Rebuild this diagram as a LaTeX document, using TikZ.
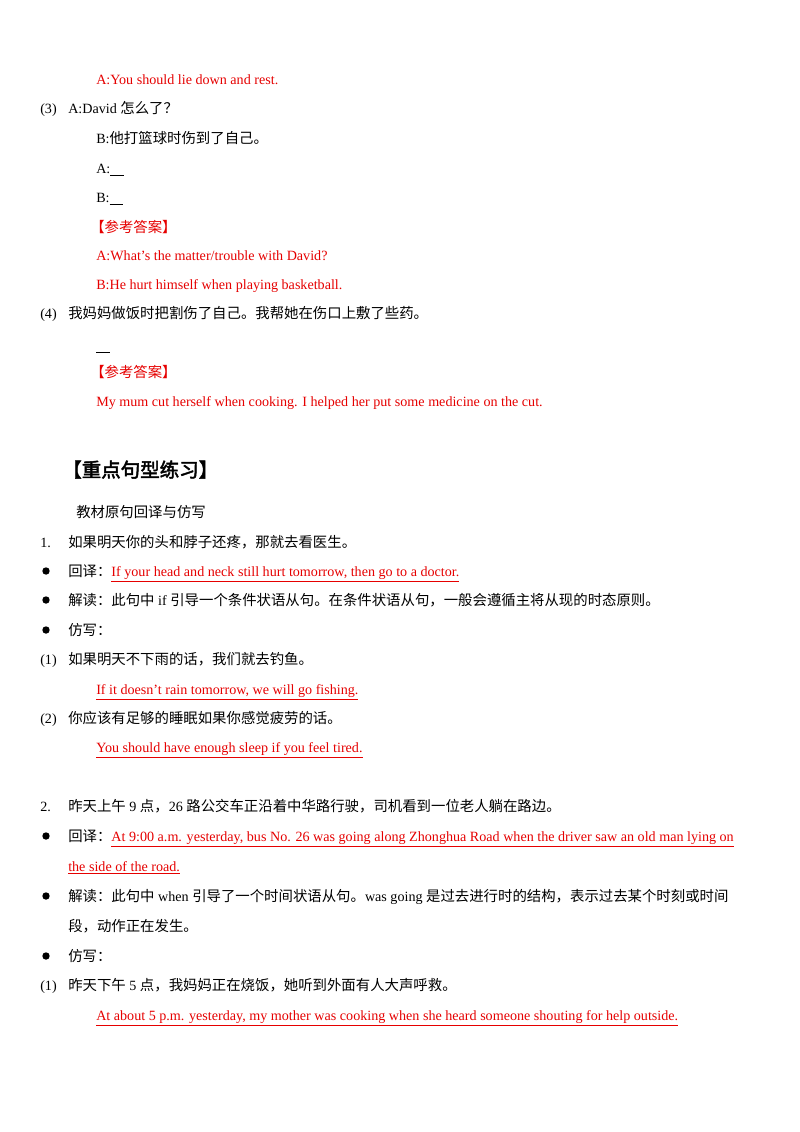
\documentclass[tikz,border=0pt]{standalone}
\usepackage{fontspec}
\setmainfont{Liberation Serif}
\newfontfamily\cjk[Scale=1.02]{Noto Sans CJK SC}
\newfontfamily\cjkb[FakeBold=2.5]{Noto Sans CJK SC}
\newcommand\zh[1]{{\cjk #1}}
\definecolor{ans}{RGB}{230,0,0}
\begin{document}
\begin{tikzpicture}[x=0.744pt,y=-0.744pt,
  t/.style={anchor=base west,inner sep=0pt,font=\fontsize{10.5}{12}\selectfont},
  r/.style={t,text=ans},
  bul/.style={fill=black,circle,inner sep=0pt,minimum size=5.5pt}]
\useasboundingbox (0,0) rectangle (800,1132);
\fill[white] (0,0) rectangle (800,1132);
\node[r] (a1) at (96,84) {A:You should lie down and rest.};
\node[t] (n3) at (40,113) {(3)};
\node[t] (q3) at (68,113) {A:David \zh{怎么了？}};
\node[t] (b3) at (96,143) {B:\zh{他打篮球时伤到了自己。}};
\node[t] (a3b) at (96,173) {A:\underline{\hspace{10pt}}};
\node[t] (b3b) at (96,202) {B:\underline{\hspace{10pt}}};
\node[r] (k3) at (90,232) {\zh{【参考答案】}};
\node[r] (a3) at (96,260) {A:What's the matter/trouble with David?};
\node[r] (b3a) at (96,289) {B:He hurt himself when playing basketball.};
\node[t] (n4) at (40,318) {(4)};
\node[t] (q4) at (68,318) {\zh{我妈妈做饭时把割伤了自己。我帮她在伤口上敷了些药。}};
\node[t] (bl4) at (96,350) {\underline{\hspace{10pt}}};
\node[r] (k4) at (90,377) {\zh{【参考答案】}};
\node[r] (a4) at (96,406) {My mum cut herself when cooking. I helped her put some medicine on the cut.};
\node[t,font=\fontsize{14.5}{16}\selectfont\cjkb] (h) at (62,477) {【重点句型练习】};
\node[t] (sub) at (76,517) {\zh{教材原句回译与仿写}};
\node[t] (s1) at (40,547) {1.};
\node[t] (s1q) at (68,547) {\zh{如果明天你的头和脖子还疼，那就去看医生。}};
\node[bul] (d1) at (46,571) {};
\node[t] (h1) at (68,576) {\zh{回译：}\textcolor{ans}{\underline{If your head and neck still hurt tomorrow, then go to a doctor.}}};
\node[bul] (d2) at (46,600) {};
\node[t] (j1) at (68,605) {\zh{解读：此句中} if \zh{引导一个条件状语从句。在条件状语从句，一般会遵循主将从现的时态原则。}};
\node[bul] (d3) at (46,630) {};
\node[t] (f1) at (68,635) {\zh{仿写：}};
\node[t] (p1) at (40,664) {(1)};
\node[t] (p1q) at (68,664) {\zh{如果明天不下雨的话，我们就去钓鱼。}};
\node[r] (p1a) at (96,694) {\underline{If it doesn't rain tomorrow, we will go fishing.}};
\node[t] (p2) at (40,723) {(2)};
\node[t] (p2q) at (68,723) {\zh{你应该有足够的睡眠如果你感觉疲劳的话。}};
\node[r] (p2a) at (96,752) {\underline{You should have enough sleep if you feel tired.}};
\node[t] (s2) at (40,811) {2.};
\node[t] (s2q) at (68,811) {\zh{昨天上午} 9 \zh{点，}26 \zh{路公交车正沿着中华路行驶，司机看到一位老人躺在路边。}};
\node[bul] (d4) at (46,836) {};
\node[t] (h2) at (68,841) {\zh{回译：}\textcolor{ans}{\underline{At 9:00 a.m. yesterday, bus No. 26 was going along Zhonghua Road when the driver saw an old man lying on}}};
\node[r] (h2b) at (68,871) {\underline{the side of the road.}};
\node[bul] (d5) at (46,896) {};
\node[t] (j2) at (68,901) {\zh{解读：此句中} when \zh{引导了一个时间状语从句。}was going \zh{是过去进行时的结构，表示过去某个时刻或时间}};
\node[t] (j2b) at (68,931) {\zh{段，动作正在发生。}};
\node[bul] (d6) at (46,956) {};
\node[t] (f2) at (68,961) {\zh{仿写：}};
\node[t] (p3) at (40,990) {(1)};
\node[t] (p3q) at (68,990) {\zh{昨天下午} 5 \zh{点，我妈妈正在烧饭，她听到外面有人大声呼救。}};
\node[r] (p3a) at (96,1020) {\underline{At about 5 p.m. yesterday, my mother was cooking when she heard someone shouting for help outside.}};
\end{tikzpicture}
\end{document}
